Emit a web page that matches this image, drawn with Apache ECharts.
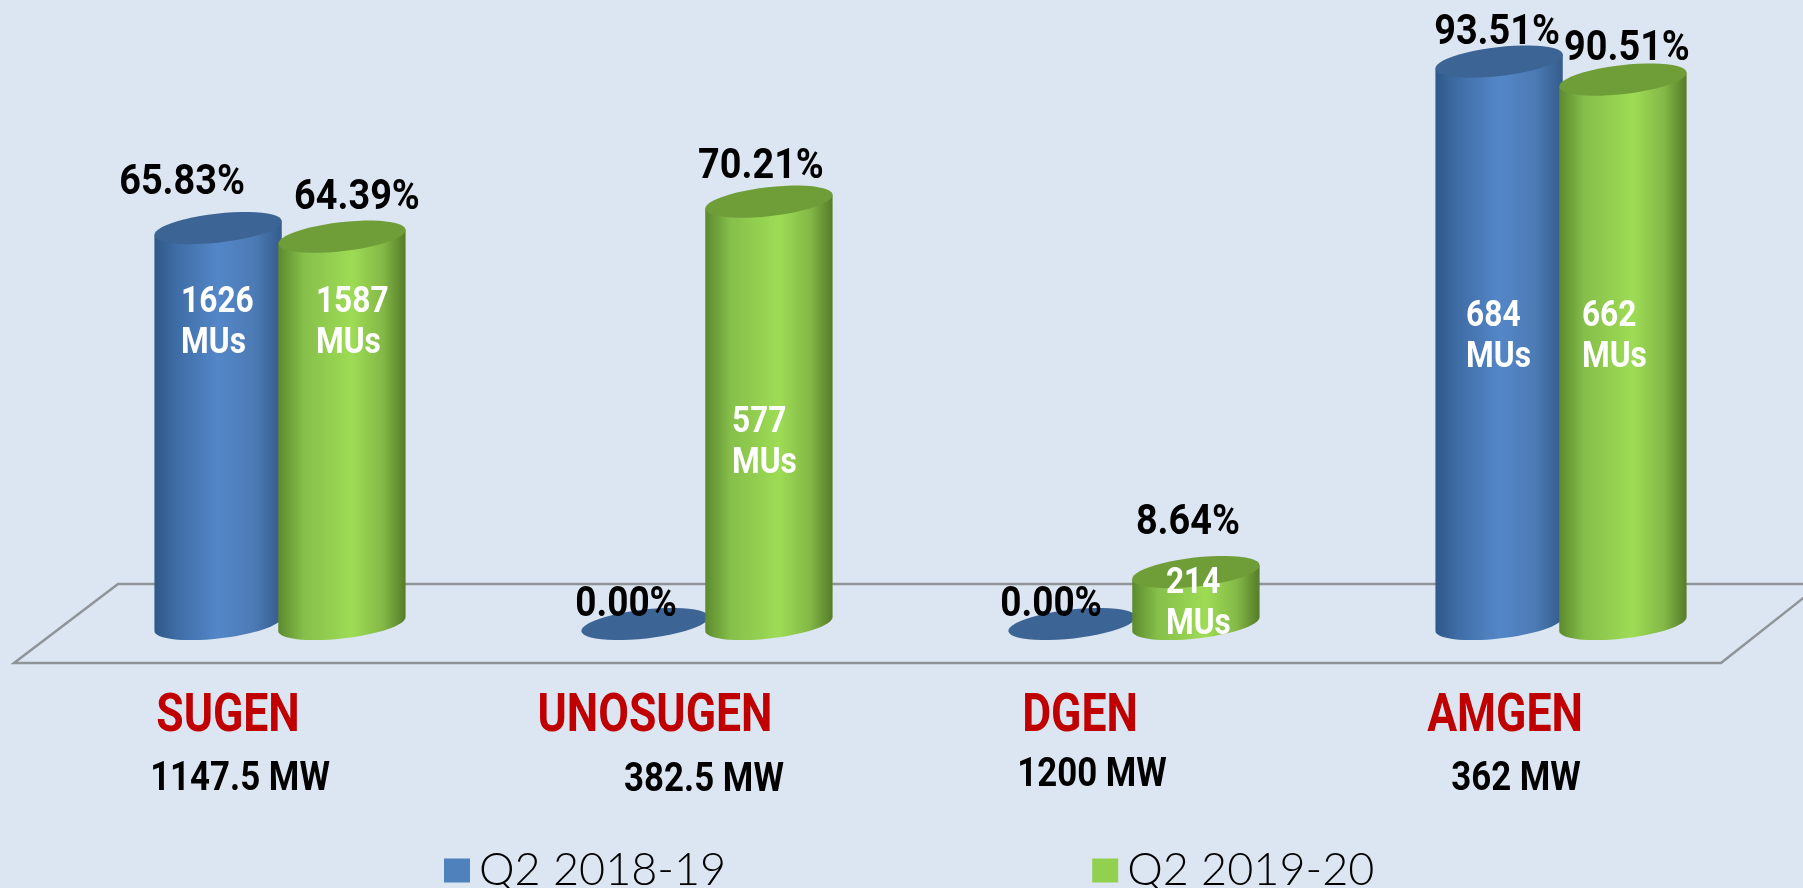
<!doctype html>
<html>
    <head>
        <meta charset="utf-8">
        <title>Plant load factor</title>
        <style>
            html, body { margin: 0; padding: 0; background: #dce6f2; }
            #main { width: 1803px; height: 888px; }
        </style>
    </head>
    <body>
        <div id="main"></div>
        <script src="https://cdn.jsdelivr.net/npm/echarts@6/dist/echarts.min.js"></script>
        <script>
            var plants = ['SUGEN', 'UNOSUGEN', 'DGEN', 'AMGEN'];
            var capacity = ['1147.5 MW', '382.5 MW', '1200 MW', '362 MW'];
            var seriesNames = ['Q2 2018-19', 'Q2 2019-20'];
            var plf1819 = [65.83, 0, 0, 93.51];
            var plf1920 = [64.39, 70.21, 8.64, 90.51];
            var mus1819 = [1626, 0, 0, 684];
            var mus1920 = [1587, 577, 214, 662];

            // hand placed text, the labels in the picture do not follow a rule
            var pctOffset1819 = [[-36, -45], [-19, -19], [-21, -19], [-2, -28]];
            var pctOffset1920 = [[15, -38], [-8, -34], [-8, -49], [4, -30]];
            var musX1819 = [-37, 0, 0, -33];
            var musX1920 = [-26, -37, -30, -41];
            var musY1819 = [323, 0, 0, 337];
            var musY1920 = [323, 443, 604, 337];
            var plantDx = [-52, -52, -54, -56];
            var capacityDx = [-40, -3, -42, -45];
            var capacityY = [780, 781, 776, 780];

            var TILT = 6.5 * Math.PI / 180;
            var RY = 14.5;

            var blueStyle = {
                top: '#3c6494',
                side: [[0, '#2f5888'], [0.18, '#3f6da6'], [0.5, '#5487c8'], [0.78, '#4c7bb5'], [1, '#345c8c']]
            };
            var greenStyle = {
                top: '#6f9e38',
                side: [[0, '#5c8a2e'], [0.2, '#86bf4a'], [0.58, '#9edc55'], [0.82, '#84b947'], [1, '#557c28']]
            };

            function ellipsePoint(cx, cy, rx, t) {
                var x = rx * Math.cos(t);
                var y = RY * Math.sin(t);
                return [
                    cx + x * Math.cos(TILT) + y * Math.sin(TILT),
                    cy - x * Math.sin(TILT) + y * Math.cos(TILT)
                ];
            }

            function ellipsePoints(cx, cy, rx) {
                var pts = [];
                for (var i = 0; i < 48; i++) {
                    pts.push(ellipsePoint(cx, cy, rx, i / 48 * Math.PI * 2));
                }
                return pts;
            }

            function sidePoints(cx, topY, baseY, rx) {
                var t0 = Math.atan2(RY * Math.sin(TILT), rx * Math.cos(TILT));
                var pts = [ellipsePoint(cx, topY, rx, t0)];
                for (var i = 0; i <= 32; i++) {
                    pts.push(ellipsePoint(cx, baseY, rx, t0 + i / 32 * Math.PI));
                }
                pts.push(ellipsePoint(cx, topY, rx, t0 + Math.PI));
                return pts;
            }

            function cylinder(look, side, pctOffset, musX, musY) {
                return function (params, api) {
                    var i = api.value(0);
                    var value = api.value(1);
                    var mus = api.value(2);
                    var band = api.size([1, 0])[0];
                    var rx = band * 0.15;
                    var base = api.coord([i, 0]);
                    var top = api.coord([i, value]);
                    var cx = base[0] + side * band * 0.145;
                    var children = [];

                    if (value > 0) {
                        children.push({
                            type: 'polygon',
                            shape: { points: sidePoints(cx, top[1], base[1], rx) },
                            style: {
                                fill: {
                                    type: 'linear', x: 0, y: 0, x2: 1, y2: 0,
                                    colorStops: look.side.map(function (s) {
                                        return { offset: s[0], color: s[1] };
                                    })
                                }
                            }
                        });
                    }
                    children.push({
                        type: 'polygon',
                        shape: { points: ellipsePoints(cx, top[1], rx) },
                        style: { fill: look.top }
                    });
                    children.push({
                        type: 'text',
                        x: cx + pctOffset[i][0],
                        y: top[1] + pctOffset[i][1],
                        scaleX: value > 0 ? 0.88 : 0.86,
                        style: {
                            text: value.toFixed(2) + '%',
                            font: 'bold 43px Roboto',
                            fill: '#000',
                            align: 'center',
                            verticalAlign: 'middle'
                        }
                    });
                    if (mus > 0) {
                        children.push({
                            type: 'text',
                            x: cx + musX[i],
                            y: musY[i],
                            scaleX: 0.88,
                            style: {
                                text: mus + '\nMUs',
                                font: 'bold 36px Roboto',
                                lineHeight: 41,
                                fill: '#fff',
                                align: 'left',
                                verticalAlign: 'middle'
                            }
                        });
                    }
                    return { type: 'group', children: children };
                };
            }

            function plantLabels(params, api) {
                var i = api.value(0);
                var p = api.coord([i, 0]);
                return {
                    type: 'group',
                    children: [{
                        type: 'text',
                        x: p[0] + plantDx[i],
                        y: 718,
                        scaleX: 0.84,
                        style: {
                            text: plants[i],
                            font: 'bold 53px Roboto',
                            fill: '#c00000',
                            align: 'center',
                            verticalAlign: 'middle'
                        }
                    }, {
                        type: 'text',
                        x: p[0] + capacityDx[i],
                        y: capacityY[i],
                        scaleX: 0.85,
                        style: {
                            text: capacity[i],
                            font: 'bold 41px Roboto',
                            fill: '#000',
                            align: 'center',
                            verticalAlign: 'middle'
                        }
                    }]
                };
            }

            function rows(values, mus) {
                return values.map(function (v, i) {
                    return [i, v, mus[i]];
                });
            }

            var chart = echarts.init(document.getElementById('main'));
            chart.setOption({
                backgroundColor: '#dce6f2',
                animation: false,
                grid: { left: 66.5, top: 22.5, width: 1708, height: 601.5 },
                xAxis: { type: 'category', data: plants, show: false },
                yAxis: { type: 'value', min: 0, max: 100, show: false },
                legend: {
                    data: seriesNames,
                    left: 439,
                    top: 843,
                    icon: 'rect',
                    itemWidth: 26,
                    itemHeight: 24,
                    itemGap: 366,
                    textStyle: { fontFamily: 'Lato', fontWeight: 300, fontSize: 45, color: '#000', padding: [0, 0, 0, 4] }
                },
                // floor of the 3d plot
                graphic: [{
                    type: 'polygon',
                    z: -10,
                    shape: { points: [[14, 663], [118, 584], [1821, 584], [1721, 663]] },
                    style: { fill: 'transparent', stroke: '#8f9499', lineWidth: 2.5 }
                }],
                series: [{
                    type: 'custom',
                    name: seriesNames[0],
                    itemStyle: { color: '#4f81bd' },
                    clip: false,
                    silent: true,
                    renderItem: cylinder(blueStyle, -1, pctOffset1819, musX1819, musY1819),
                    data: rows(plf1819, mus1819)
                }, {
                    type: 'custom',
                    name: seriesNames[1],
                    itemStyle: { color: '#92d050' },
                    clip: false,
                    silent: true,
                    renderItem: cylinder(greenStyle, 1, pctOffset1920, musX1920, musY1920),
                    data: rows(plf1920, mus1920)
                }, {
                    type: 'custom',
                    name: 'labels',
                    clip: false,
                    silent: true,
                    renderItem: plantLabels,
                    data: plants.map(function (p, i) { return [i, 0]; })
                }]
            });
        </script>
    </body>
</html>
